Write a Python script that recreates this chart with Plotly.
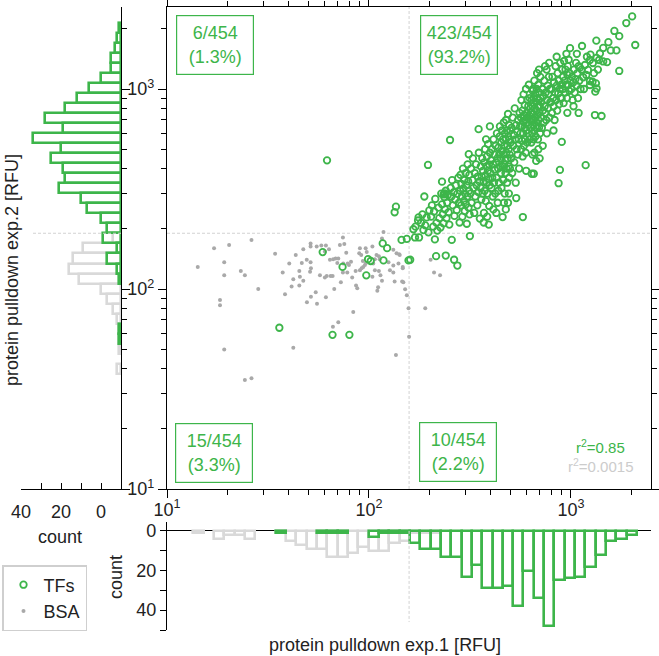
import numpy as np
import plotly.graph_objects as go

# ---------------------------------------------------------------- data
# TF (green) points, (exp.1 RFU, exp.2 RFU)
tf_upper_left = [(62, 440), (136, 258), (134, 242)]
tf_lower_left = [(59, 153), (74, 129), (97, 117), (99, 141), (102, 138), (117, 169),
                 (123, 160), (118, 139), (157, 139), (145, 176), (154, 178), (36, 64),
                 (66, 59), (80, 59)]
tf_lower_right = [(169, 181), (177, 181), (212, 177), (257, 176), (316, 184), (160, 140),
                  (215, 146), (240, 147), (264, 140), (274, 131)]
tf_upper_right = [
    (166, 199), (175, 220), (176, 228), (170, 205),
    (181, 214), (184, 236), (186, 197), (188, 290), (190, 208), (193, 228), (196, 417), (197, 192), (199, 247),
    (203, 230), (205, 262), (208, 205), (210, 244), (213, 282), (216, 214), (218, 196), (221, 255), (223, 226),
    (226, 203), (228, 300), (230, 265), (232, 236), (234, 213), (236, 288), (238, 250), (240, 310), (242, 226),
    (244, 270), (246, 296), (248, 242), (250, 210), (230, 344), (234, 297), (237, 301),
    (252, 556), (254, 320), (256, 290), (258, 350), (260, 262), (263, 305), (265, 232), (267, 280), (269, 330),
    (272, 248), (274, 300), (277, 360), (279, 270), (281, 215),
    (283, 310), (284, 372), (286, 262), (287, 335), (289, 290), (290, 230), (292, 400), (293, 318), (295, 276),
    (296, 350), (298, 245), (299, 300), (301, 380), (302, 265), (304, 330), (305, 212), (307, 290), (308, 420),
    (310, 345), (311, 255), (313, 310), (314, 372), (315, 236), (312, 472),
    (318, 300), (320, 400), (322, 270), (325, 350), (327, 450), (329, 320), (332, 240), (334, 380), (336, 290),
    (339, 420), (341, 330), (344, 262), (346, 365), (348, 305), (350, 480), (352, 345), (354, 225), (349, 630),
    (357, 320), (358, 410), (360, 280), (362, 365), (364, 450), (365, 300), (367, 390), (369, 345), (371, 240),
    (372, 430), (374, 310), (376, 500), (377, 370), (379, 275), (381, 410), (382, 340), (384, 460), (386, 300),
    (388, 390), (389, 530), (391, 355), (393, 420), (394, 260), (396, 330), (397, 480), (385, 230), (370, 215),
    (392, 210), (380, 560), (397, 650),
    (400, 380), (402, 440), (404, 320), (406, 500), (408, 360), (410, 290), (412, 420), (414, 560), (416, 340),
    (418, 470), (420, 395), (422, 300), (424, 520), (426, 430), (428, 360), (430, 600), (432, 450), (434, 270),
    (436, 400), (438, 510), (440, 340), (442, 470), (444, 580), (446, 410), (413, 250), (427, 240), (437, 310),
    (445, 650),
    (449, 450), (450, 380), (452, 540), (453, 320), (455, 490), (456, 620), (458, 410), (459, 229), (461, 560),
    (462, 350), (464, 470), (465, 680), (467, 420), (468, 520), (470, 300), (471, 600), (473, 440), (474, 380),
    (476, 560), (477, 700), (479, 480), (480, 400), (482, 620), (483, 340), (485, 520), (486, 450), (488, 750),
    (489, 580), (491, 410), (492, 500), (494, 660), (495, 360), (497, 560), (498, 470), (500, 620), (488, 270),
    (466, 270), (493, 300), (476, 250), (499, 400),
    (503, 540), (506, 450), (509, 640), (512, 380), (515, 720), (518, 520), (521, 590), (524, 430), (527, 800),
    (530, 560), (533, 340), (536, 660), (539, 500), (542, 610), (545, 470), (548, 700), (551, 560), (554, 400),
    (557, 760), (560, 650), (536, 285),
    (563, 600), (565, 720), (567, 500), (569, 880), (571, 650), (573, 550), (575, 780), (577, 460), (579, 690),
    (581, 600), (583, 940), (585, 520), (587, 740), (589, 640), (591, 830), (593, 560), (595, 700), (597, 480),
    (599, 1000), (601, 620), (603, 760), (605, 680), (607, 540), (609, 880), (611, 720), (613, 600), (615, 820),
    (617, 660), (619, 1050), (621, 740), (623, 560), (625, 900), (627, 700), (629, 800), (578, 229), (600, 390),
    (633, 640), (635, 760), (637, 540), (639, 880), (641, 700), (643, 600), (645, 820), (647, 980), (649, 660),
    (651, 750), (653, 560), (655, 900), (657, 700), (659, 1100), (661, 620), (663, 800), (665, 720), (667, 950),
    (669, 580), (671, 860), (673, 680), (675, 780), (677, 1000), (679, 640), (681, 900), (683, 740), (685, 820),
    (687, 560), (689, 1050), (691, 700), (693, 880), (695, 640), (697, 960), (699, 760), (701, 820), (703, 600),
    (705, 1150), (707, 900), (640, 377), (655, 377), (673, 437), (645, 470), (690, 500), (700, 450), (660, 480),
    (680, 1200), (650, 1000), (695, 1250),
    (710, 720), (714, 860), (718, 640), (722, 1000), (726, 780), (730, 920), (734, 680), (738, 1100), (742, 820),
    (746, 760), (750, 960), (754, 700), (758, 1250), (762, 880), (766, 1040), (770, 800), (774, 940), (778, 1150),
    (782, 720), (786, 1000), (790, 860), (725, 520), (760, 600), (745, 1300), (780, 1350),
    (798, 860), (802, 1000), (806, 760), (810, 1150), (815, 900), (820, 820), (825, 1080), (830, 700), (835, 960),
    (840, 1300), (845, 880), (850, 1040), (855, 780), (860, 1200), (865, 950), (870, 1100), (875, 840), (880, 1000),
    (885, 1350), (890, 900), (869, 338), (882, 394), (820, 620), (850, 1450),
    (895, 1050), (900, 900), (905, 1250), (910, 1000), (915, 1150), (920, 850), (925, 1380), (930, 1100),
    (935, 960), (940, 1250), (945, 1050), (950, 1500), (955, 900), (960, 1180), (965, 1300), (970, 1050),
    (975, 1400), (980, 980), (985, 1200), (990, 1600), (995, 1100), (901, 544), (960, 760),
    (1005, 1000), (1012, 1150), (1020, 880), (1028, 1080), (1036, 1250), (1044, 960), (1052, 1120), (1060, 1350),
    (1068, 1040), (1076, 1200), (1084, 900), (1092, 1300), (1100, 1100), (1108, 1278), (1116, 1000), (1092, 759),
    (1030, 820), (1070, 1500),
    (1135, 1641), (1150, 1145), (1173, 1318), (1192, 1175), (1214, 1245), (1242, 1096), (1242, 1047), (1242, 1396),
    (1183, 416), (1160, 1000), (1200, 1450), (1130, 1250), (1250, 1484),
    (1280, 1087), (1330, 1067), (1340, 1006), (1320, 970), (1284, 1349), (1340, 1430), (1392, 1505), (1380, 1396),
    (1336, 1745), (1315, 741), (1300, 1200), (1360, 1250),
    (1418, 733), (1445, 1373), (1510, 1363), (1445, 1604), (1575, 1560), (1533, 1714),
    (1680, 1560), (1641, 1951), (1735, 1837), (1735, 1231), (1880, 2137), (2010, 2306), (2082, 1660),
]

# BSA (gray) points, (exp.1 RFU, exp.2 RFU)
bsa_points = [
    (14.2, 129), (17.1, 160), (19.2, 136), (19.2, 117), (20.3, 166), (23.2, 123), (24.3, 117), (26.2, 176),
    (28.3, 100), (18.3, 88.1), (18.3, 82.9), (19.2, 49.9), (34.3, 150), (37.4, 121), (38.4, 94.1), (40.3, 134),
    (42.2, 112), (41.4, 103), (43.4, 148), (42.2, 50.9), (45.2, 123), (45.5, 115), (45.2, 104), (47.3, 110),
    (46.5, 135), (49.2, 140), (51.4, 136), (47.3, 158), (51.4, 169), (51.4, 163), (55.1, 163), (51.1, 122),
    (51.6, 127), (49.3, 85.8), (51.6, 91.5), (54.5, 96.3), (55.3, 84.4), (61.2, 90.9), (57.2, 117), (60.5, 114),
    (61.8, 116), (64.6, 116), (66.1, 116), (58.1, 165), (61.2, 165), (63.4, 158), (60.5, 154), (64.1, 140),
    (66.5, 141), (68.4, 142), (69.7, 135), (70.5, 142), (74.6, 134), (67.3, 100), (66.3, 64.8), (70.5, 68.2),
    (71.8, 166), (75.5, 168), (74.3, 181), (72.6, 108), (74.3, 121), (78.1, 121), (77.2, 152), (78.5, 134),
    (81.5, 137), (79.6, 132), (82.6, 114), (83.6, 76.7), (85.9, 123), (90.2, 124), (92.0, 127), (93.7, 129),
    (95.5, 132), (86.3, 104), (87.5, 101), (90.2, 160), (96.3, 160), (104, 163), (89.5, 151), (91.6, 148),
    (97.5, 153), (93.3, 138), (96.6, 135), (105, 134), (107, 141), (109, 148), (112, 146), (113, 141),
    (104, 115), (107, 124), (112, 123), (114, 117), (116, 110), (111, 102), (110, 98), (116, 179), (118, 193),
    (125, 136), (132, 131), (140, 134), (147, 127), (132, 157), (137, 151), (141, 149), (127, 124), (132, 121),
    (134, 109), (146, 109), (151, 99.7), (154, 93.0), (157, 80.1), (158, 57.7), (136, 46.8), (190, 80.1),
    (202, 140), (210, 121), (225, 117), (142, 148), (147, 129), (148, 108), (26.2, 35.8), (24.3, 35.1),
]

thresh_exp1 = 158   # RFU, vertical cut-off
thresh_exp2 = 190   # RFU, horizontal cut-off

quadrant_labels = ["6/454<br>(1.3%)", "423/454<br>(93.2%)", "15/454<br>(3.3%)", "10/454<br>(2.2%)"]
r2_tf = "0.85"
r2_bsa = "0.0015"

# histograms: counts per log10 bin
hist1_start, hist1_width = 0.9766, 0.0511       # exp.1 (bottom histogram)
tf_hist1 = [0, 0, 0, 0, 0, 0, 0, 0, 0, 0, 0, 1, 0, 0, 0, 1, 1, 1, 0, 0, 3, 1, 1, 1,
            6, 9, 9, 13, 13, 23, 17, 29, 29, 28, 38, 20, 34, 48, 25, 24, 23, 18, 12, 5, 4, 2]
bsa_hist1 = [0, 0, 0, 1, 0, 4, 2, 2, 4, 0, 0, 1, 5, 7, 9, 9, 13, 13, 11, 8, 10, 10, 6, 5,
             1, 1, 1]
hist2_start, hist2_width = 0.9728, 0.0502       # exp.2 (left histogram)
tf_hist2 = [0, 0, 0, 0, 0, 0, 0, 0, 0, 0, 0, 0, 0, 0, 0, 1, 1, 0, 0, 0, 0, 1, 2, 7, 2,
            9, 7, 10, 17, 20, 31, 28, 29, 35, 30, 44, 29, 38, 28, 22, 16, 10, 5, 5, 3, 2, 1]
bsa_hist2 = [0, 0, 0, 0, 0, 0, 0, 0, 0, 0, 0, 0, 2, 0, 1, 1, 1, 2, 4, 7, 10, 21, 26, 24, 19,
             4]

# ---------------------------------------------------------------- style
GREEN = "#3db54a"
GRAY_DOT = "#a9a9a9"
GRAY_HIST = "#d9d9d9"
DASH = "#d2d2d2"
FONT = "Liberation Sans, Arial, Helvetica, sans-serif"
W, H = 659, 656


def fx(p):
    return p / W


def fy(p):
    return 1 - p / H


main_xd = [fx(167), fx(651)]
main_yd = [fy(489), fy(7)]
left_xd = [fx(21), fx(121)]
bot_yd = [fy(630), fy(522)]
xr = [1.0, 3.3965]
yr = [1.0, 3.41]

tf_pts = tf_upper_left + tf_lower_left + tf_lower_right + tf_upper_right
tf_x = [p[0] for p in tf_pts]
tf_y = [p[1] for p in tf_pts]
bsa_x = [p[0] for p in bsa_points]
bsa_y = [p[1] for p in bsa_points]

major = [10, 100, 1000]
minor = [v * m for v in (10, 100, 1000) for m in range(2, 10) if v * m <= 2600]
tick_txt = ["10<sup>1</sup>", "10<sup>2</sup>", "10<sup>3</sup>"]


def nz(a):
    return [v if v > 0 else None for v in a]


def centers(start, width, n):
    return [start + width * (i + 0.5) for i in range(n)]


fig = go.Figure()

# threshold lines
dash_line = dict(color=DASH, width=1, dash="3px,2px")
fig.add_trace(go.Scatter(x=[thresh_exp1, thresh_exp1], y=[10 ** yr[0], 10 ** yr[1]], mode="lines",
                         line=dash_line, showlegend=False, hoverinfo="skip"))
fig.add_trace(go.Scatter(x=[10 ** xr[0], 10 ** xr[1]], y=[thresh_exp2, thresh_exp2], mode="lines",
                         line=dash_line, showlegend=False, hoverinfo="skip"))
fig.add_trace(go.Scatter(x=[34, -10], y=[np.log10(thresh_exp2)] * 2, mode="lines", xaxis="x2", yaxis="y2",
                         line=dash_line, showlegend=False, hoverinfo="skip"))
fig.add_trace(go.Scatter(x=[np.log10(thresh_exp1)] * 2, y=[0, 46], mode="lines", xaxis="x3", yaxis="y3",
                         line=dash_line, showlegend=False, hoverinfo="skip"))

# scatter
fig.add_trace(go.Scatter(x=bsa_x, y=bsa_y, mode="markers", name="BSA", legendrank=2,
                         marker=dict(size=4, color=GRAY_DOT)))
fig.add_trace(go.Scatter(x=tf_x, y=tf_y, mode="markers", name="TFs", legendrank=1,
                         marker=dict(size=6.5, symbol="circle-open", color=GREEN, line=dict(width=1.8, color=GREEN))))

# left histogram (exp.2)
for counts, col in ((bsa_hist2, GRAY_HIST), (tf_hist2, GREEN)):
    fig.add_trace(go.Bar(y=centers(hist2_start, hist2_width, len(counts)), x=nz(counts), base=-10,
                         orientation="h", width=hist2_width, xaxis="x2", yaxis="y2", showlegend=False,
                         marker=dict(color="rgba(0,0,0,0)", line=dict(color=col, width=2.6))))
# bottom histogram (exp.1)
for counts, col in ((bsa_hist1, GRAY_HIST), (tf_hist1, GREEN)):
    fig.add_trace(go.Bar(x=centers(hist1_start, hist1_width, len(counts)), y=nz(counts),
                         width=hist1_width, xaxis="x3", yaxis="y3", showlegend=False,
                         marker=dict(color="rgba(0,0,0,0)", line=dict(color=col, width=2.6))))

axis_common = dict(showline=True, linecolor="black", linewidth=1.4, ticks="outside", tickcolor="black",
                   tickwidth=1.3, showgrid=False, zeroline=False, automargin=False,
                   tickfont=dict(size=18, color="#222"))

fig.update_layout(
    width=W, height=H, margin=dict(l=0, r=0, t=0, b=0, autoexpand=False),
    paper_bgcolor="white", plot_bgcolor="white",
    font=dict(family=FONT, size=18, color="#222"),
    barmode="overlay", bargap=0,
    xaxis=dict(type="log", range=xr, domain=main_xd, anchor="y", mirror="allticks", ticklen=8,
               tickmode="array", tickvals=major, ticktext=tick_txt, ticklabelstandoff=-4,
               minor=dict(tickmode="array", tickvals=minor, ticks="outside", ticklen=5, tickcolor="black",
                          tickwidth=1.3, showgrid=False), **axis_common),
    yaxis=dict(type="log", range=yr, domain=main_yd, anchor="x", mirror="allticks", ticklen=8,
               tickmode="array", tickvals=major, ticktext=tick_txt,
               minor=dict(tickmode="array", tickvals=minor, ticks="outside", ticklen=5, tickcolor="black",
                          tickwidth=1.3, showgrid=False), **axis_common),
    xaxis2=dict(range=[40, -10], domain=left_xd, anchor="y2", tickmode="array",
                tickvals=[40, 30, 20, 10, 0, -10], ticktext=["40", "", "20", "", "0", ""],
                ticklabelstandoff=6, **{**axis_common, "ticks": "inside"}, ticklen=6),
    yaxis2=dict(range=yr, domain=main_yd, anchor="x2", side="right", tickmode="array",
                tickvals=list(np.log10(major)), showticklabels=False, ticklen=8,
                minor=dict(tickmode="array", tickvals=list(np.log10(minor)), ticks="outside", ticklen=5,
                           tickcolor="black", tickwidth=1.3, showgrid=False), **axis_common),
    xaxis3=dict(range=xr, domain=main_xd, anchor="y3", showline=False, showticklabels=False, ticks="",
                showgrid=False, zeroline=False, automargin=False),
    yaxis3=dict(range=[50, -4.5], domain=bot_yd, anchor="x3", side="left", tickmode="array",
                tickvals=[0, 10, 20, 30, 40, 50], ticktext=["0", "", "20", "", "40", ""], ticklen=6,
                **{**axis_common, "zeroline": True}, zerolinecolor="black", zerolinewidth=1.4),
    legend=dict(x=fx(2), y=fy(565), xanchor="left", yanchor="top", bordercolor="#cfcfcf", borderwidth=1.5,
                bgcolor="white", font=dict(size=18, color="#222"), tracegroupgap=0),
)

ann = []
box_pos = [(214.5, 45), (459, 45), (214, 453), (458, 452)]
for txt, (bx, by) in zip(quadrant_labels, box_pos):
    ann.append(dict(text=txt, x=fx(bx), y=fy(by), font=dict(size=18, color=GREEN), bordercolor=GREEN,
                    borderwidth=1.2, borderpad=3, width=70, height=52, align="center"))
ann.append(dict(text="r<sup>2</sup>=" + r2_tf, x=fx(600), y=fy(446), font=dict(size=15, color=GREEN)))
ann.append(dict(text="r<sup>2</sup>=" + r2_bsa, x=fx(600), y=fy(465), font=dict(size=15, color="#cccccc")))
ann.append(dict(text="protein pulldown exp.1 [RFU]", x=fx(385), y=fy(645), font=dict(size=18)))
ann.append(dict(text="protein pulldown exp.2 [RFU]", x=fx(12), y=fy(270), textangle=-90, font=dict(size=18)))
ann.append(dict(text="count", x=fx(60), y=fy(537), font=dict(size=18)))
ann.append(dict(text="count", x=fx(116), y=fy(577), textangle=-90, font=dict(size=18)))
for a in ann:
    a.update(xref="paper", yref="paper", showarrow=False, xanchor="center", yanchor="middle")
fig.update_layout(annotations=ann)

fig.write_html("out.html", config={"displayModeBar": False},
               post_script="document.body.style.margin='0';document.body.style.overflow='hidden';")
